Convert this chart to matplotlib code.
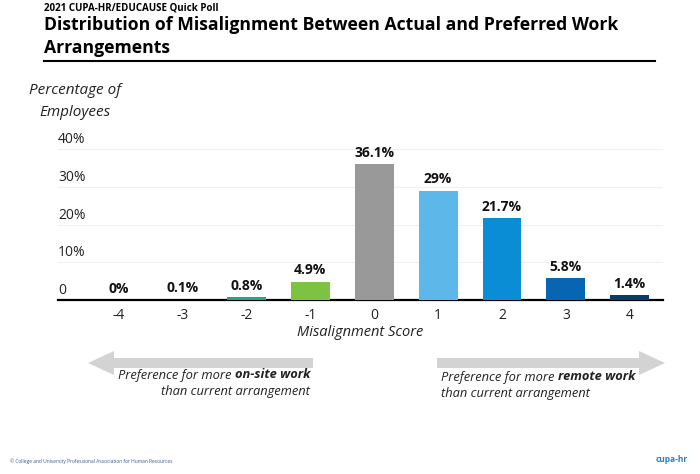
import matplotlib.pyplot as plt
from matplotlib.patches import FancyArrow
from matplotlib.transforms import blended_transform_factory, offset_copy

plt.rcParams['font.family'] = ['Open Sans', 'DejaVu Sans']

scores = [-4, -3, -2, -1, 0, 1, 2, 3, 4]
percent = [0, 0.1, 0.8, 4.9, 36.1, 29, 21.7, 5.8, 1.4]
value_labels = ['0%', '0.1%', '0.8%', '4.9%', '36.1%', '29%', '21.7%', '5.8%', '1.4%']
colors = ['#1aa88a', '#1aa88a', '#1aa88a', '#7dc242', '#999999',
          '#5db7e8', '#0a8dd5', '#0865b2', '#083d6b']
yticks = [0, 10, 20, 30, 40]
ytick_labels = ['0', '10%', '20%', '30%', '40%']

W, H = 700, 474


def fx(px):
    return px / W


def fy(py):
    return 1 - py / H


def main():
    fig = plt.figure(figsize=(7, 4.74), dpi=100)

    ymax = 40.5
    ppu = 3.775
    ax = fig.add_axes([fx(58), fy(300), fx(663) - fx(58), ymax * ppu / H])
    ax.bar(scores, percent, width=0.61, color=colors, zorder=3)
    ax.set_xlim(-4.95, 4.52)
    ax.set_ylim(0, ymax)
    for s in ['top', 'right', 'left']:
        ax.spines[s].set_visible(False)
    ax.spines['bottom'].set_linewidth(1.6)
    ax.spines['bottom'].set_color('black')
    ax.set_yticks(yticks)
    ax.set_yticklabels([])
    ax.tick_params(axis='y', length=0)
    ax.yaxis.grid(True, color='#f0f0f0', linewidth=0.8, zorder=0)
    ax.set_xticks(scores)
    ax.set_xticklabels([str(s) for s in scores], fontsize=10, color='#222222')
    ax.tick_params(axis='x', length=0, pad=6)
    ax.set_xlabel('Misalignment Score', fontsize=10.5, style='italic',
                  color='#222222', labelpad=1)

    trans = blended_transform_factory(ax.transAxes, ax.transData)
    trans = offset_copy(trans, fig=fig, x=0, y=2, units='dots')
    for v, lab in zip(yticks, ytick_labels):
        ax.text(0, v, lab, transform=trans, ha='left', va='bottom',
                fontsize=10, color='#222222')

    for s, p, lab in zip(scores, percent, value_labels):
        ax.annotate(lab, (s, p), xytext=(0, 3), textcoords='offset points',
                    ha='center', va='bottom', fontsize=10, fontweight='bold',
                    color='#111111')

    # titles
    fig.text(fx(44), fy(8), '2021 CUPA-HR/EDUCAUSE Quick Poll', fontsize=7,
             fontweight='bold', va='center', ha='left')
    fig.text(fx(44), fy(25), 'Distribution of Misalignment Between Actual and Preferred Work',
             fontsize=12.7, fontweight='bold', va='center', ha='left')
    fig.text(fx(44), fy(48), 'Arrangements', fontsize=12.7, fontweight='bold',
             va='center', ha='left')
    fig.add_artist(plt.Line2D([fx(44), fx(655)], [fy(61), fy(61)],
                              color='black', linewidth=1.5))

    fig.text(fx(75), fy(91), 'Percentage of', fontsize=11, style='italic',
             ha='center', va='center', color='#222222')
    fig.text(fx(75), fy(112), 'Employees', fontsize=11, style='italic',
             ha='center', va='center', color='#222222')

    # arrows
    arrow_kw = dict(transform=fig.transFigure, color='#d3d3d3', lw=0,
                    length_includes_head=True)
    fig.add_artist(FancyArrow(fx(313), fy(363), fx(88) - fx(313), 0,
                              width=10 / H, head_width=24 / H,
                              head_length=fx(26), **arrow_kw))
    fig.add_artist(FancyArrow(fx(437), fy(363), fx(665) - fx(437), 0,
                              width=10 / H, head_width=24 / H,
                              head_length=fx(26), **arrow_kw))

    fig.canvas.draw()
    r = fig.canvas.get_renderer()
    tk = dict(fontsize=9.3, style='italic', color='#222222', va='center')

    b = fig.text(fx(310), fy(375), 'on-site work', ha='right',
                 fontweight='bold', **tk)
    bb = b.get_window_extent(r)
    fig.text(bb.x0 / fig.bbox.width, fy(375), 'Preference for more ', ha='right', **tk)
    fig.text(fx(310), fy(392), 'than current arrangement', ha='right', **tk)

    a = fig.text(fx(441), fy(377), 'Preference for more ', ha='left', **tk)
    ab = a.get_window_extent(r)
    fig.text(ab.x1 / fig.bbox.width, fy(377), 'remote work', ha='left',
             fontweight='bold', **tk)
    fig.text(fx(441), fy(394), 'than current arrangement', ha='left', **tk)

    # footer
    fig.text(fx(10), fy(461),
             '\u00a9 College and University Professional Association for Human Resources',
             fontsize=3.5, color='#3a5a8a', ha='left', va='center')
    fig.text(fx(672), fy(459), 'cupa-hr', fontsize=6, color='#2a7fc0',
             ha='center', va='center', fontweight='bold')

    fig.savefig('out.png', dpi=100)


if __name__ == "__main__":
    main()
